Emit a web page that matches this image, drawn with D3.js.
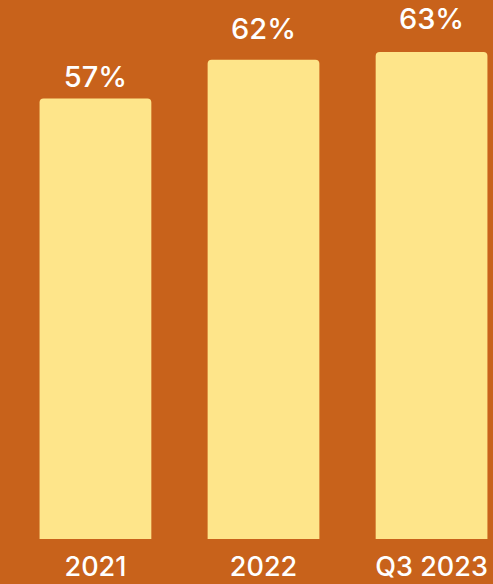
<!DOCTYPE html>
<html><head><meta charset="utf-8">
<script src="https://cdn.jsdelivr.net/npm/d3@7"></script>
<style>html,body{margin:0;padding:0;background:#C8621B;}svg{display:block;}</style>
</head><body>
<script>
const categories = ["2021", "2022", "Q3 2023"];
const values = [57, 62, 63];
const valueLabels = ["57%", "62%", "63%"];

const W = 493, H = 584;
const svg = d3.select("body").append("svg").attr("width", W).attr("height", H);
svg.append("rect").attr("width", W).attr("height", H).attr("fill", "#C8621B");

const x = d3.scaleBand().domain(categories).range([11, 516]).paddingInner(0.335).paddingOuter(0.17);
const y = d3.scaleLinear().domain([0, 100]).range([539, -234]);
const gap = d3.scaleLinear().domain([57, 63]).range([11, 23]);

const r = 4;
function barPath(x0, y0, w, h) {
  return `M${x0},${y0 + h}V${y0 + r}Q${x0},${y0} ${x0 + r},${y0}H${x0 + w - r}Q${x0 + w},${y0} ${x0 + w},${y0 + r}V${y0 + h}Z`;
}

svg.selectAll("path.bar").data(values).join("path")
  .attr("class", "bar")
  .attr("fill", "#FEE58A")
  .attr("d", (d, i) => barPath(x(categories[i]), y(d), x.bandwidth(), y(0) - y(d)));

svg.selectAll("text.val").data(values).join("text")
  .attr("class", "val")
  .attr("x", (d, i) => x(categories[i]) + x.bandwidth() / 2)
  .attr("y", d => y(d) - gap(d))
  .attr("text-anchor", "middle")
  .attr("fill", "#ffffff")
  .attr("font-family", "Inter, 'Open Sans', sans-serif")
  .attr("font-weight", 500)
  .attr("font-size", 29)
  .text((d, i) => valueLabels[i]);

const xAxis = d3.axisBottom(x).tickSize(0).tickPadding(0);
const gx = svg.append("g").attr("transform", `translate(0,${y(0)})`).call(xAxis);
gx.select(".domain").remove();
gx.selectAll("text")
  .attr("dy", 0).attr("y", 37)
  .attr("fill", "#ffffff")
  .attr("font-family", "Inter, 'Open Sans', sans-serif")
  .attr("font-weight", 500)
  .attr("font-size", 27);
</script>
</body></html>
